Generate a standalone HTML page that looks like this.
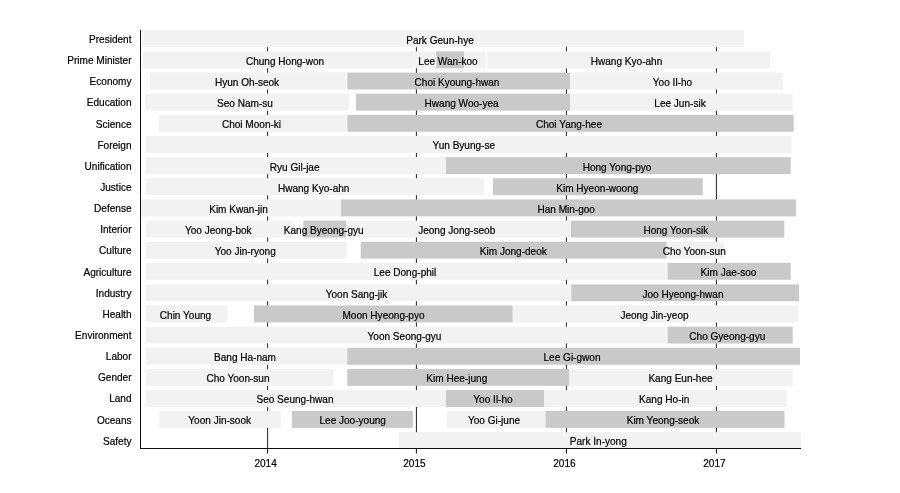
<!DOCTYPE html>
<html lang="en"><head><meta charset="utf-8"><title>Cabinet timeline</title>
<style>
html,body{margin:0;padding:0;background:#fff;}
body{width:900px;height:493px;overflow:hidden;}
svg{display:block;}
text{font-family:"Liberation Sans",Arial,Helvetica,sans-serif;font-size:10.05px;fill:#000;stroke:#000;stroke-width:0.2px;}
</style></head><body>
<svg width="900" height="493" viewBox="0 0 900 493">
<rect width="900" height="493" fill="#fff"/>
<rect x="267.1" y="46.6" width="1" height="401.9" fill="#222"/>
<rect x="415.9" y="46.6" width="1" height="401.9" fill="#222"/>
<rect x="565.9" y="46.6" width="1" height="401.9" fill="#222"/>
<rect x="715.9" y="46.6" width="1" height="401.9" fill="#222"/>
<rect x="142.5" y="30.24" width="601.5" height="16.92" fill="#f2f2f2"/>
<rect x="143.0" y="51.39" width="342.7" height="16.92" fill="#f2f2f2"/>
<rect x="436.3" y="51.39" width="27.7" height="16.92" fill="#c9c9c9"/>
<rect x="487.2" y="51.39" width="282.8" height="16.92" fill="#f2f2f2"/>
<rect x="150.0" y="72.54" width="196.0" height="16.92" fill="#f2f2f2"/>
<rect x="347.3" y="72.54" width="222.7" height="16.92" fill="#c9c9c9"/>
<rect x="570.0" y="72.54" width="212.5" height="16.92" fill="#f2f2f2"/>
<rect x="145.0" y="93.69" width="204.0" height="16.92" fill="#f2f2f2"/>
<rect x="356.0" y="93.69" width="214.0" height="16.92" fill="#c9c9c9"/>
<rect x="570.0" y="93.69" width="222.3" height="16.92" fill="#f2f2f2"/>
<rect x="159.0" y="114.84" width="187.0" height="16.92" fill="#f2f2f2"/>
<rect x="347.3" y="114.84" width="446.4" height="16.92" fill="#c9c9c9"/>
<rect x="146.0" y="135.99" width="645.7" height="16.92" fill="#f2f2f2"/>
<rect x="146.0" y="157.14" width="300.0" height="16.92" fill="#f2f2f2"/>
<rect x="446.0" y="157.14" width="344.7" height="16.92" fill="#c9c9c9"/>
<rect x="146.0" y="178.29" width="338.0" height="16.92" fill="#f2f2f2"/>
<rect x="493.0" y="178.29" width="209.7" height="16.92" fill="#c9c9c9"/>
<rect x="141.0" y="199.44" width="200.0" height="16.92" fill="#f2f2f2"/>
<rect x="341.0" y="199.44" width="455.0" height="16.92" fill="#c9c9c9"/>
<rect x="146.0" y="220.59" width="148.0" height="16.92" fill="#f2f2f2"/>
<rect x="303.3" y="220.59" width="42.7" height="16.92" fill="#c9c9c9"/>
<rect x="346.0" y="220.59" width="225.0" height="16.92" fill="#f2f2f2"/>
<rect x="571.0" y="220.59" width="213.3" height="16.92" fill="#c9c9c9"/>
<rect x="146.0" y="241.74" width="200.7" height="16.92" fill="#f2f2f2"/>
<rect x="360.7" y="241.74" width="306.0" height="16.92" fill="#c9c9c9"/>
<rect x="666.7" y="241.74" width="57.3" height="16.92" fill="#f2f2f2"/>
<rect x="146.0" y="262.89" width="521.7" height="16.92" fill="#f2f2f2"/>
<rect x="667.7" y="262.89" width="123.0" height="16.92" fill="#c9c9c9"/>
<rect x="146.0" y="284.34" width="425.3" height="16.92" fill="#f2f2f2"/>
<rect x="571.3" y="284.34" width="227.7" height="16.92" fill="#c9c9c9"/>
<rect x="146.0" y="305.49" width="81.7" height="16.92" fill="#f2f2f2"/>
<rect x="254.0" y="305.49" width="258.7" height="16.92" fill="#c9c9c9"/>
<rect x="512.7" y="305.49" width="285.6" height="16.92" fill="#f2f2f2"/>
<rect x="146.0" y="326.64" width="521.7" height="16.92" fill="#f2f2f2"/>
<rect x="667.7" y="326.64" width="125.0" height="16.92" fill="#c9c9c9"/>
<rect x="146.0" y="347.79" width="201.3" height="16.92" fill="#f2f2f2"/>
<rect x="347.3" y="347.79" width="452.7" height="16.92" fill="#c9c9c9"/>
<rect x="146.0" y="368.94" width="187.3" height="16.92" fill="#f2f2f2"/>
<rect x="347.3" y="368.94" width="222.0" height="16.92" fill="#c9c9c9"/>
<rect x="569.3" y="368.94" width="223.4" height="16.92" fill="#f2f2f2"/>
<rect x="146.0" y="390.09" width="300.0" height="16.92" fill="#f2f2f2"/>
<rect x="446.0" y="390.09" width="98.3" height="16.92" fill="#c9c9c9"/>
<rect x="544.3" y="390.09" width="242.4" height="16.92" fill="#f2f2f2"/>
<rect x="159.3" y="410.94" width="121.5" height="16.92" fill="#f2f2f2"/>
<rect x="292.0" y="410.94" width="120.9" height="16.92" fill="#c9c9c9"/>
<rect x="447.0" y="410.94" width="98.6" height="16.92" fill="#f2f2f2"/>
<rect x="545.6" y="410.94" width="238.9" height="16.92" fill="#c9c9c9"/>
<rect x="398.4" y="432.09" width="402.6" height="16.92" fill="#f2f2f2"/>
<rect x="140.0" y="30.0" width="1" height="419.0" fill="#111"/>
<rect x="140.0" y="448.0" width="661.0" height="1" fill="#111"/>
<rect x="267.1" y="448.5" width="1" height="5" fill="#111"/>
<rect x="415.9" y="448.5" width="1" height="5" fill="#111"/>
<rect x="565.9" y="448.5" width="1" height="5" fill="#111"/>
<rect x="715.9" y="448.5" width="1" height="5" fill="#111"/>
<text x="440.0" y="43.7" text-anchor="middle">Park Geun-hye</text>
<text x="285.0" y="64.8" text-anchor="middle">Chung Hong-won</text>
<text x="448.0" y="64.8" text-anchor="middle">Lee Wan-koo</text>
<text x="626.5" y="64.8" text-anchor="middle">Hwang Kyo-ahn</text>
<text x="247.0" y="86.0" text-anchor="middle">Hyun Oh-seok</text>
<text x="457.0" y="86.0" text-anchor="middle">Choi Kyoung-hwan</text>
<text x="672.5" y="86.0" text-anchor="middle">Yoo Il-ho</text>
<text x="245.0" y="107.2" text-anchor="middle">Seo Nam-su</text>
<text x="461.6" y="107.2" text-anchor="middle">Hwang Woo-yea</text>
<text x="680.0" y="107.2" text-anchor="middle">Lee Jun-sik</text>
<text x="251.5" y="128.3" text-anchor="middle">Choi Moon-ki</text>
<text x="569.0" y="128.3" text-anchor="middle">Choi Yang-hee</text>
<text x="463.8" y="149.4" text-anchor="middle">Yun Byung-se</text>
<text x="294.7" y="170.6" text-anchor="middle">Ryu Gil-jae</text>
<text x="617.0" y="170.6" text-anchor="middle">Hong Yong-pyo</text>
<text x="313.7" y="191.8" text-anchor="middle">Hwang Kyo-ahn</text>
<text x="597.3" y="191.8" text-anchor="middle">Kim Hyeon-woong</text>
<text x="238.5" y="212.9" text-anchor="middle">Kim Kwan-jin</text>
<text x="566.2" y="212.9" text-anchor="middle">Han Min-goo</text>
<text x="218.3" y="234.1" text-anchor="middle">Yoo Jeong-bok</text>
<text x="323.7" y="234.1" text-anchor="middle">Kang Byeong-gyu</text>
<text x="456.7" y="234.1" text-anchor="middle">Jeong Jong-seob</text>
<text x="675.8" y="234.1" text-anchor="middle">Hong Yoon-sik</text>
<text x="245.2" y="255.2" text-anchor="middle">Yoo Jin-ryong</text>
<text x="513.3" y="255.2" text-anchor="middle">Kim Jong-deok</text>
<text x="694.2" y="255.2" text-anchor="middle">Cho Yoon-sun</text>
<text x="405.0" y="276.3" text-anchor="middle">Lee Dong-phil</text>
<text x="728.5" y="276.3" text-anchor="middle">Kim Jae-soo</text>
<text x="356.5" y="297.5" text-anchor="middle">Yoon Sang-jik</text>
<text x="683.0" y="297.5" text-anchor="middle">Joo Hyeong-hwan</text>
<text x="185.5" y="318.6" text-anchor="middle">Chin Young</text>
<text x="383.5" y="318.6" text-anchor="middle">Moon Hyeong-pyo</text>
<text x="654.5" y="318.6" text-anchor="middle">Jeong Jin-yeop</text>
<text x="404.5" y="339.8" text-anchor="middle">Yoon Seong-gyu</text>
<text x="727.3" y="339.8" text-anchor="middle">Cho Gyeong-gyu</text>
<text x="245.0" y="360.9" text-anchor="middle">Bang Ha-nam</text>
<text x="572.0" y="360.9" text-anchor="middle">Lee Gi-gwon</text>
<text x="238.0" y="382.1" text-anchor="middle">Cho Yoon-sun</text>
<text x="456.8" y="382.1" text-anchor="middle">Kim Hee-jung</text>
<text x="680.5" y="382.1" text-anchor="middle">Kang Eun-hee</text>
<text x="295.0" y="403.2" text-anchor="middle">Seo Seung-hwan</text>
<text x="493.0" y="403.2" text-anchor="middle">Yoo Il-ho</text>
<text x="664.2" y="403.2" text-anchor="middle">Kang Ho-in</text>
<text x="219.7" y="424.4" text-anchor="middle">Yoon Jin-sook</text>
<text x="352.7" y="424.4" text-anchor="middle">Lee Joo-young</text>
<text x="494.0" y="424.4" text-anchor="middle">Yoo Gi-june</text>
<text x="663.0" y="424.4" text-anchor="middle">Kim Yeong-seok</text>
<text x="598.3" y="444.7" text-anchor="middle">Park In-yong</text>
<text x="131.5" y="42.9" text-anchor="end">President</text>
<text x="131.5" y="64.0" text-anchor="end">Prime Minister</text>
<text x="131.5" y="85.2" text-anchor="end">Economy</text>
<text x="131.5" y="106.4" text-anchor="end">Education</text>
<text x="131.5" y="127.5" text-anchor="end">Science</text>
<text x="131.5" y="148.6" text-anchor="end">Foreign</text>
<text x="131.5" y="169.8" text-anchor="end">Unification</text>
<text x="131.5" y="190.9" text-anchor="end">Justice</text>
<text x="131.5" y="212.1" text-anchor="end">Defense</text>
<text x="131.5" y="233.2" text-anchor="end">Interior</text>
<text x="131.5" y="254.4" text-anchor="end">Culture</text>
<text x="131.5" y="275.5" text-anchor="end">Agriculture</text>
<text x="131.5" y="296.7" text-anchor="end">Industry</text>
<text x="131.5" y="317.8" text-anchor="end">Health</text>
<text x="131.5" y="339.0" text-anchor="end">Environment</text>
<text x="131.5" y="360.1" text-anchor="end">Labor</text>
<text x="131.5" y="381.3" text-anchor="end">Gender</text>
<text x="131.5" y="402.4" text-anchor="end">Land</text>
<text x="131.5" y="423.6" text-anchor="end">Oceans</text>
<text x="131.5" y="444.7" text-anchor="end">Safety</text>
<text x="265.6" y="467" text-anchor="middle">2014</text>
<text x="414.4" y="467" text-anchor="middle">2015</text>
<text x="564.4" y="467" text-anchor="middle">2016</text>
<text x="714.4" y="467" text-anchor="middle">2017</text>
</svg>
</body></html>
